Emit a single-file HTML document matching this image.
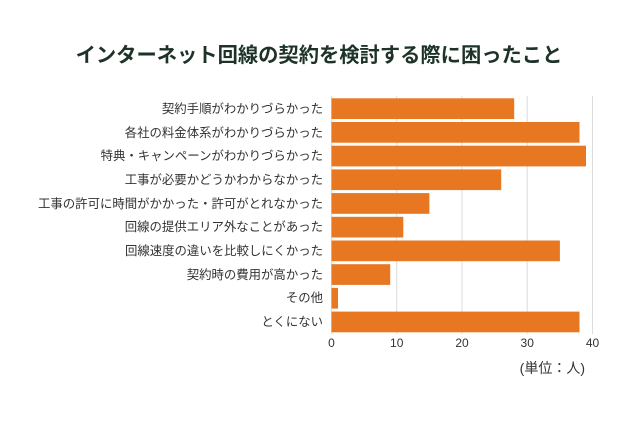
<!DOCTYPE html>
<html><head><meta charset="utf-8"><style>
html,body{margin:0;padding:0;background:#fff;}
svg{display:block;font-family:"Liberation Sans","Noto Sans CJK JP",sans-serif;}
</style></head><body>
<svg width="640" height="426" viewBox="0 0 640 426" xmlns="http://www.w3.org/2000/svg">
<rect width="640" height="426" fill="#fff"/>
<text x="319" y="62" text-anchor="middle" font-size="20.3" font-weight="bold" fill="#1e3328">インターネット回線の契約を検討する際に困ったこと</text>
<g stroke="#dcdcdc" stroke-width="1">
<line x1="331.5" y1="96" x2="331.5" y2="334"/>
<line x1="396.7" y1="96" x2="396.7" y2="334"/>
<line x1="462" y1="96" x2="462" y2="334"/>
<line x1="527.2" y1="96" x2="527.2" y2="334"/>
<line x1="592.5" y1="96" x2="592.5" y2="334"/>
</g>
<g fill="#e87722">
<rect x="331.5" y="98.3" width="182.7" height="20.7"/>
<rect x="331.5" y="122" width="248" height="20.7"/>
<rect x="331.5" y="145.7" width="254.5" height="20.7"/>
<rect x="331.5" y="169.4" width="169.7" height="20.7"/>
<rect x="331.5" y="193.1" width="97.9" height="20.7"/>
<rect x="331.5" y="216.8" width="71.8" height="20.7"/>
<rect x="331.5" y="240.5" width="228.4" height="20.7"/>
<rect x="331.5" y="264.2" width="58.7" height="20.7"/>
<rect x="331.5" y="287.9" width="6.5" height="20.7"/>
<rect x="331.5" y="311.6" width="248" height="20.7"/>
</g>
<g font-size="12.4" fill="#333" text-anchor="end">
<text x="323" y="113">契約手順がわかりづらかった</text>
<text x="323" y="137">各社の料金体系がわかりづらかった</text>
<text x="323" y="160">特典・キャンペーンがわかりづらかった</text>
<text x="323" y="184">工事が必要かどうかわからなかった</text>
<text x="323" y="208">工事の許可に時間がかかった・許可がとれなかった</text>
<text x="323" y="231">回線の提供エリア外なことがあった</text>
<text x="323" y="255">回線速度の違いを比較しにくかった</text>
<text x="323" y="279">契約時の費用が高かった</text>
<text x="323" y="302">その他</text>
<text x="323" y="326">とくにない</text>
</g>
<g font-size="12" fill="#333" text-anchor="middle">
<text x="331.5" y="347">0</text>
<text x="396.7" y="347">10</text>
<text x="462" y="347">20</text>
<text x="527.2" y="347">30</text>
<text x="592.5" y="347">40</text>
</g>
<text x="585" y="373" font-size="14" fill="#333" text-anchor="end">(単位：人)</text>
</svg>
</body></html>
